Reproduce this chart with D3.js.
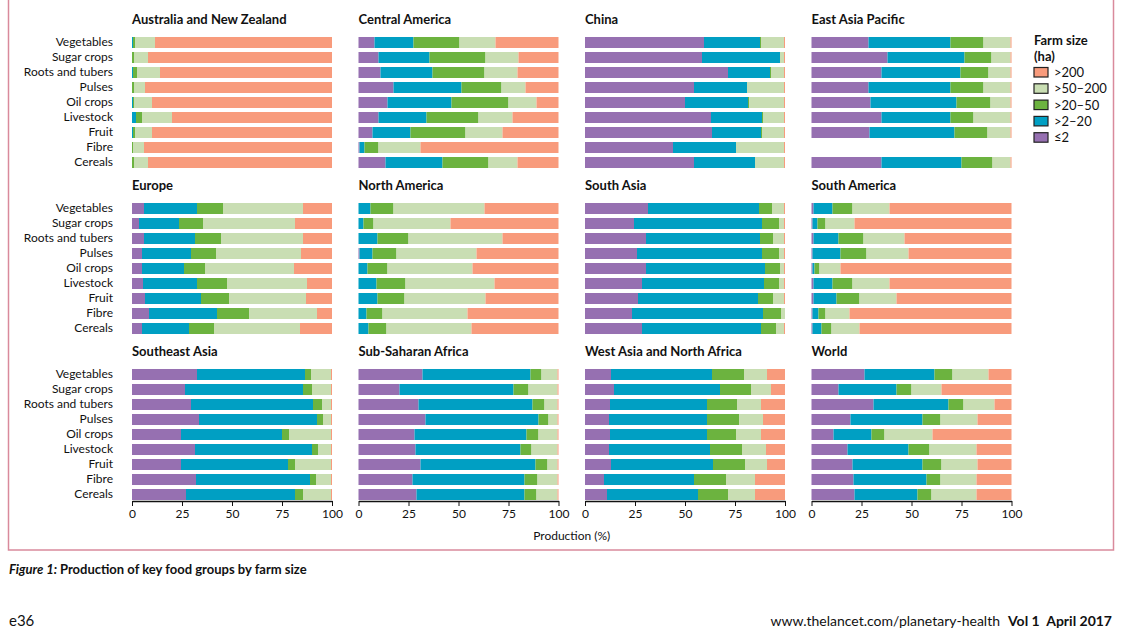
<!DOCTYPE html>
<html>
<head>
<meta charset="utf-8">
<script src="https://cdn.jsdelivr.net/npm/d3@7"></script>
<style>
  body { margin: 0; background: #fff; }
  svg text { font-family: Lato, "Liberation Sans", sans-serif; fill: #111; }
</style>
</head>
<body>
<svg id="chart" width="1128" height="630"></svg>
<script>
// food groups, top to bottom
const foodGroups = ['Vegetables', 'Sugar crops', 'Roots and tubers', 'Pulses', 'Oil crops',
  'Livestock', 'Fruit', 'Fibre', 'Cereals'];
// farm size classes, stacked left to right
const sizeClasses = ['≤2', '>2–20', '>20–50', '>50–200', '>200'];
const sizeColors = ['#9670b1', '#009fc3', '#6cb33f', '#c9deb3', '#f89b7c'];
const tickValues = [0, 25, 50, 75, 100];

// rows follow foodGroups, columns follow sizeClasses (% of production)
const ausNZ = [
  [0, 0.5, 1, 10, 88.5], [0, 0, 1, 7, 92], [0, 0.5, 2, 11.5, 86], [0, 0, 1, 5.5, 93.5],
  [0, 0.5, 0.5, 9, 90], [0, 2, 3, 15, 80], [0, 0.5, 1, 8.5, 90], [0, 0, 0.5, 5.5, 94],
  [0, 0, 1, 7, 92]
];
const centralAmerica = [
  [8, 19.5, 23, 18, 31.5], [10, 25.5, 28, 16.5, 20], [11, 26, 26, 16.5, 20.5], [17.5, 34, 20, 12, 16.5],
  [14.5, 32, 28.5, 14, 11], [10, 24, 26, 17, 23], [7, 19, 27.5, 18.5, 28], [0.5, 2.5, 7, 21, 69],
  [13.5, 28.5, 23, 14.5, 20.5]
];
const china = [
  [59.5, 28, 0.5, 11.5, 0.5], [58.5, 39, 0, 2, 0.5], [71.5, 21, 0.5, 6.5, 0.5], [54.5, 26.5, 0, 18.5, 0.5],
  [50, 31.5, 0.5, 17.5, 0.5], [63, 25.5, 0.5, 10.5, 0.5], [63.5, 24.5, 0.5, 11, 0.5], [44, 31.5, 0, 24, 0.5],
  [54.5, 30.5, 0, 14.5, 0.5]
];
const eastAsiaPacific = [
  [28.5, 41, 16.5, 13.5, 0.5], [38, 38.5, 13.5, 9.5, 0.5], [35, 39.5, 14, 11, 0.5], [28.5, 41, 16.5, 13.5, 0.5],
  [29.5, 43, 17, 10, 0.5], [35, 34.5, 11.5, 18.5, 0.5], [29, 42.5, 16.5, 11.5, 0.5], null,
  [35, 40, 15.5, 9, 0.5]
];
const europe = [
  [6, 26.5, 13, 40, 14.5], [3.5, 20, 12, 46, 18.5], [6, 25.5, 13, 41, 14.5], [5, 24.5, 12.5, 42.5, 15.5],
  [5, 21, 10.5, 44.5, 19], [5.5, 27, 15, 40, 12.5], [6.5, 28, 14, 38.5, 13], [8.5, 34, 16, 34, 7.5],
  [5, 23.5, 12.5, 43, 16]
];
const northAmerica = [
  [0, 6, 11.5, 45.5, 37], [0, 2.5, 5, 38.5, 54], [0, 9.5, 15.5, 47, 28], [0.5, 6.5, 12, 40, 41],
  [0, 4.5, 10, 42.5, 43], [0, 9, 14.5, 44.5, 32], [0, 9.5, 13.5, 40.5, 36.5], [0, 4, 8, 42.5, 45.5],
  [0, 5, 9, 42.5, 43.5]
];
const southAsia = [
  [31.5, 55.5, 6.5, 6, 0.5], [24.5, 64, 8.5, 2.5, 0.5], [30.5, 57, 6.5, 5.5, 0.5], [26, 62.5, 8.5, 2.5, 0.5],
  [30.5, 59.5, 7.5, 2, 0.5], [28.5, 61, 7.5, 2.5, 0.5], [26.5, 60, 7.5, 5.5, 0.5], [23.5, 65.5, 9, 2, 0],
  [28.5, 59.5, 7.5, 4, 0.5]
];
const southAmerica = [
  [1, 9.5, 10, 18.5, 61], [0.5, 2.5, 4, 14.5, 78.5], [1, 12.5, 12.5, 20.5, 53.5], [0.5, 14, 13, 21, 51.5],
  [0.5, 1, 2.5, 10.5, 85.5], [1, 9.5, 10, 18.5, 61], [1, 11.5, 11.5, 18.5, 57.5], [0.5, 3, 3.5, 12, 81],
  [0.5, 4.5, 5, 14, 76]
];
const southeastAsia = [
  [32.5, 54, 3, 10, 0.5], [26.5, 59, 4.5, 9.5, 0.5], [29.5, 61, 4.5, 4.5, 0.5], [33.5, 59, 3, 4, 0.5],
  [24.5, 50.5, 3.5, 21, 0.5], [31.5, 58.5, 3, 6.5, 0.5], [24.5, 53.5, 3.5, 18, 0.5], [32, 57, 3, 7.5, 0.5],
  [27, 54.5, 4, 14, 0.5]
];
const subSaharan = [
  [32, 54, 5.5, 8, 0.5], [20.5, 57, 7.5, 14.5, 0.5], [30, 57, 6, 6.5, 0.5], [33.5, 56.5, 5, 4.5, 0.5],
  [28, 56, 6, 9.5, 0.5], [28.5, 52.5, 5.5, 13, 0.5], [31, 57.5, 6, 5, 0.5], [27, 56, 6.5, 10, 0.5],
  [29, 54, 6, 10.5, 0.5]
];
const westAsiaNAfrica = [
  [13, 50.5, 16, 11.5, 9], [14.5, 53, 15.5, 10, 7], [12.5, 48.5, 15, 12, 12], [12, 49, 16, 12, 11],
  [12.5, 48.5, 14.5, 12.5, 12], [12, 50.5, 16, 12, 9.5], [13, 51, 16, 11, 9], [9.5, 45, 16, 14.5, 15],
  [11, 45.5, 15, 13.5, 15]
];
const world = [
  [26.5, 35, 9, 18, 11.5], [13.5, 29, 7.5, 15, 35], [31, 37.5, 7.5, 15.5, 8.5], [19.5, 36, 9, 18.5, 17],
  [11, 19, 6.5, 24, 39.5], [18, 30.5, 10.5, 23.5, 17.5], [20.5, 35, 9.5, 18, 17], [21, 36.5, 7, 18, 17.5],
  [21.5, 31.5, 7, 22.5, 17.5]
];

const regionNames = ['Australia and New Zealand', 'Central America', 'China', 'East Asia Pacific',
  'Europe', 'North America', 'South Asia', 'South America',
  'Southeast Asia', 'Sub-Saharan Africa', 'West Asia and North Africa', 'World'];
const regionData = [ausNZ, centralAmerica, china, eastAsiaPacific,
  europe, northAmerica, southAsia, southAmerica,
  southeastAsia, subSaharan, westAsiaNAfrica, world];

const svg = d3.select('#chart');

// page frame
svg.append('rect')
  .attr('x', 8.5).attr('y', -2).attr('width', 1105).attr('height', 552)
  .attr('fill', 'none').attr('stroke', '#d98a9c').attr('stroke-width', 1.5);

const colX = [132, 358.5, 585, 811.5];
const rowTop = [35, 201, 367];
const panelW = 200, panelH = 135;

const x = d3.scaleLinear().domain([0, 100]).range([0, panelW]);
const y = d3.scaleBand().domain(foodGroups).range([0, panelH])
  .paddingInner(0.267).paddingOuter(0.133);
const color = d3.scaleOrdinal().domain(sizeClasses).range(sizeColors);

regionNames.forEach((name, i) => {
  const col = i % 4, row = Math.floor(i / 4);
  const g = svg.append('g').attr('transform', `translate(${colX[col]},${rowTop[row]})`);

  g.append('text')
    .attr('x', 0).attr('y', -11)
    .style('font-weight', 700).style('font-size', '13px')
    .text(name);

  const rows = foodGroups.map((f, k) => ({ food: f, vals: regionData[i][k] }))
    .filter(d => d.vals);
  const tableRows = rows.map(d => {
    const o = { food: d.food };
    sizeClasses.forEach((s, j) => o[s] = d.vals[j]);
    return o;
  });
  const series = d3.stack().keys(sizeClasses)(tableRows);

  g.selectAll('g.layer')
    .data(series)
    .join('g')
    .attr('class', 'layer')
    .attr('fill', d => color(d.key))
    .selectAll('rect')
    .data(d => d)
    .join('rect')
    .attr('x', d => x(d[0]))
    .attr('width', d => Math.max(0, x(d[1]) - x(d[0])))
    .attr('y', d => y(d.data.food))
    .attr('height', y.bandwidth());

  if (col === 0) {
    g.selectAll('text.cat')
      .data(foodGroups)
      .join('text')
      .attr('class', 'cat')
      .attr('x', -19)
      .attr('y', d => y(d) + y.bandwidth() / 2)
      .attr('dy', '0.3em')
      .attr('text-anchor', 'end')
      .style('font-size', '12px')
      .text(d => d);
  }

  if (row === 2) {
    const ax = g.append('g')
      .attr('transform', `translate(0,${panelH - 1})`)
      .call(d3.axisBottom(x).tickValues(tickValues).tickSize(5).tickSizeOuter(0));
    ax.select('.domain').attr('stroke', '#111').attr('stroke-width', 1.5);
    ax.selectAll('.tick line').attr('stroke', '#111');
    ax.selectAll('.tick text')
      .style('font-size', '12px')
      .style('font-family', 'Lato, sans-serif')
      .attr('fill', '#111');
  }
});

// shared x-axis title
svg.append('text')
  .attr('x', (colX[0] + colX[3] + panelW) / 2).attr('y', 540)
  .attr('text-anchor', 'middle')
  .style('font-size', '12px')
  .text('Production (%)');

// legend
const legend = svg.append('g').attr('transform', 'translate(1034,0)');
legend.append('text').attr('y', 45).style('font-weight', 700).style('font-size', '13px').text('Farm size');
legend.append('text').attr('y', 61).style('font-weight', 700).style('font-size', '13px').text('(ha)');
const legendOrder = sizeClasses.slice().reverse();
const li = legend.selectAll('g.item')
  .data(legendOrder)
  .join('g')
  .attr('class', 'item')
  .attr('transform', (d, k) => `translate(0,${67.5 + k * 16.3})`);
li.append('rect')
  .attr('width', 14).attr('height', 9.5)
  .attr('fill', d => color(d))
  .attr('stroke', '#222').attr('stroke-width', 1.2);
li.append('text')
  .attr('x', 20).attr('y', 5).attr('dy', '0.35em')
  .style('font-size', '13px')
  .text(d => d);

// caption
const cap = svg.append('text').attr('x', 9).attr('y', 574).style('font-size', '13px').style('font-weight', 700);
cap.append('tspan').style('font-style', 'italic').text('Figure 1: ');
cap.append('tspan').text('Production of key food groups by farm size');

// footer
svg.append('text').attr('x', 9).attr('y', 626).style('font-size', '15px').text('e36');
svg.append('text').attr('x', 1000).attr('y', 626).attr('text-anchor', 'end')
  .style('font-size', '14px').text('www.thelancet.com/planetary-health');
svg.append('text').attr('x', 1008).attr('y', 626)
  .style('font-size', '14px').style('font-weight', 700).text('Vol 1');
svg.append('text').attr('x', 1112).attr('y', 626).attr('text-anchor', 'end')
  .style('font-size', '14px').style('font-weight', 700).text('April 2017');
</script>
</body>
</html>
